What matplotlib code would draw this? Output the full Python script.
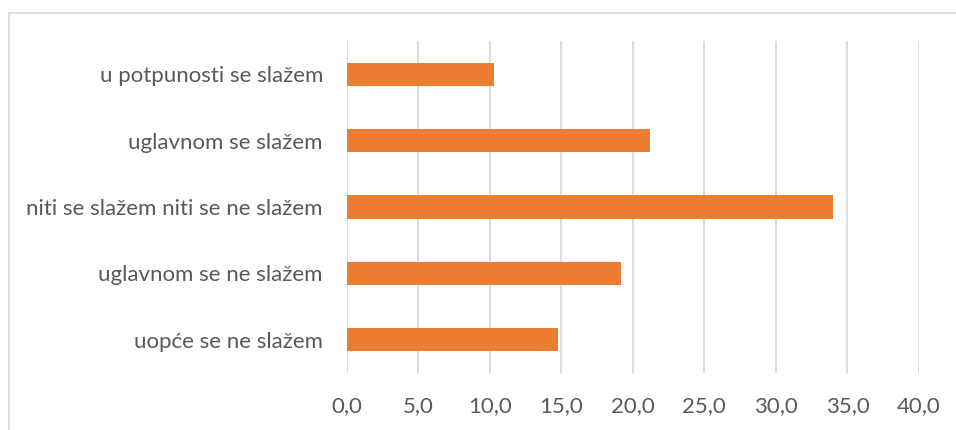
import matplotlib
matplotlib.use("Agg")
import matplotlib.pyplot as plt
from matplotlib.patches import Rectangle

# survey answers, top to bottom, and share of respondents (%)
categories = ["u potpunosti se slažem", "uglavnom se slažem",
              "niti se slažem niti se ne slažem", "uglavnom se ne slažem",
              "uopće se ne slažem"]
values = [10.3, 21.2, 34.0, 19.2, 14.8]
xticks = [0, 5, 10, 15, 20, 25, 30, 35, 40]

bar_color = "#ED7D31"
grid_color = "#D9D9D9"
text_color = "#595959"

plt.rcParams["font.family"] = ["Lato", "DejaVu Sans"]

fig = plt.figure(figsize=(9.56, 4.30), dpi=100)
ax = fig.add_axes([0.3625, 0.1326, 0.5988, 0.772])

ypos = list(range(len(categories)))[::-1]
ax.barh(ypos, values, height=0.35, color=bar_color, zorder=3)

ax.set_xlim(0, 40)
ax.set_ylim(-0.5, len(categories) - 0.5)
ax.set_xticks(xticks)
ax.set_xticklabels([f"{t:.1f}".replace(".", ",") for t in xticks])
ax.set_yticks(ypos)
ax.set_yticklabels(categories)

ax.grid(axis="x", color=grid_color, linewidth=1.3, zorder=0)
ax.tick_params(axis="both", length=0, labelsize=16, labelcolor=text_color)
ax.tick_params(axis="y", pad=17)
ax.tick_params(axis="x", pad=17)
for s in ax.spines.values():
    s.set_visible(False)

# chart frame
fig.patches.append(Rectangle((9 / 956, -0.1), 1.1, (430 - 12.5) / 430 + 0.1,
                             transform=fig.transFigure, fill=False,
                             edgecolor=grid_color, linewidth=1.2))

fig.savefig("out.png", dpi=100)
